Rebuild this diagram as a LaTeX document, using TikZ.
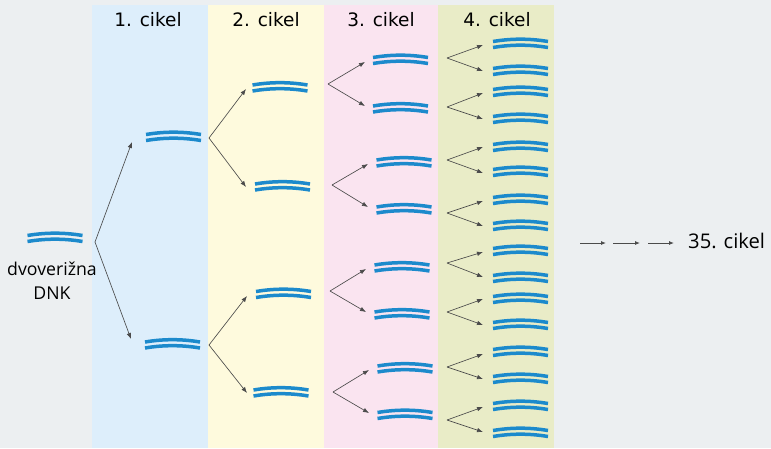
\documentclass[tikz,border=0pt]{standalone}
\usepackage{fontspec}
\setmainfont{Open Sans}
\newfontfamily\headfont{DejaVu Sans}
\usetikzlibrary{arrows.meta}
\definecolor{bg}{RGB}{236,239,241}
\definecolor{colblue}{RGB}{221,238,251}
\definecolor{colyellow}{RGB}{254,250,221}
\definecolor{colpink}{RGB}{250,228,240}
\definecolor{colgreen}{RGB}{233,236,199}
\definecolor{dnablue}{RGB}{28,138,204}
\definecolor{arrowgrey}{RGB}{75,75,75}
\tikzset{
  strand/.style={draw=dnablue, line width=3.5pt},
  dnabox/.style={minimum width=56pt, minimum height=12pt, inner sep=0pt, outer sep=0pt},
  arr/.style={draw=arrowgrey, line width=0.65pt, -{Latex[length=6pt,width=4.5pt]}},
  head/.style={anchor=base, inner sep=0pt, font=\headfont\fontsize{18.5}{22}\selectfont},
  lbl/.style={anchor=base, inner sep=0pt, font=\fontsize{17.7}{21}\selectfont}
}
\newcommand\dnapiece[3]{%
  \node[dnabox] (#1) at (#2,#3) {};
  \begin{scope}[shift={(#2,#3)}]
    \draw[strand] (-27.5,-1.5) .. controls (-9,-4.6) and (9,-4.6) .. (27.5,-1.5);
    \draw[strand] (-27.5,4.5) .. controls (-9,1.4) and (9,1.4) .. (27.5,4.5);
  \end{scope}}
\begin{document}
\begin{tikzpicture}[x=1pt,y=-1pt]
\fill[bg] (0,0) rectangle (771,448);
\useasboundingbox (0,0) rectangle (771,448);
% columns
\fill[colblue] (92,5) rectangle (208,448);
\fill[colyellow] (208,5) rectangle (324,448);
\fill[colpink] (324,5) rectangle (438,448);
\fill[colgreen] (438,5) rectangle (554,448);
% headers
\node[head] (h1) at (148,26) {1. cikel};
\node[head] (h2) at (266,26) {2. cikel};
\node[head] (h3) at (381,26) {3. cikel};
\node[head] (h4) at (497,26) {4. cikel};
% start DNA
\dnapiece{d0}{55}{237}
\node[lbl] (l1) at (52,275) {dvoverižna};
\node[lbl] (l2) at (52,299) {DNK};
% cycle 1
\coordinate (b0) at (95,242);
\coordinate (t1a) at (132,142);
\coordinate (t1b) at (131,339);
\draw[arr] (b0) -- (t1a);
\draw[arr] (b0) -- (t1b);
\dnapiece{d1a}{173.5}{136}
\dnapiece{d1b}{172.5}{343.5}
% cycle 2
\coordinate (b1a) at (209,138);
\coordinate (b1b) at (209,345);
\coordinate (t2a) at (246,89);
\coordinate (t2b) at (246,187);
\coordinate (t2c) at (247,296);
\coordinate (t2d) at (247,393);
\draw[arr] (b1a) -- (t2a);
\draw[arr] (b1a) -- (t2b);
\draw[arr] (b1b) -- (t2c);
\draw[arr] (b1b) -- (t2d);
\dnapiece{d2a}{280}{86.5}
\dnapiece{d2b}{282.5}{185.5}
\dnapiece{d2c}{283.5}{293}
\dnapiece{d2d}{281}{391.5}
% cycle 3
\foreach \bx/\by/\tx/\ta/\tb/\dx/\da/\db [count=\i] in
  {328/84/365/62/106/400.5/59/107.5,
   332/185/368/164/207/404/161.5/208.5,
   330/291/366/269/312/402/266.5/313.5,
   333/392/369/370/413/405/367.5/414}{
  \coordinate (p\i) at (\bx,\by);
  \coordinate (pa\i) at (\tx,\ta);
  \coordinate (pb\i) at (\tx,\tb);
  \draw[arr] (p\i) -- (pa\i);
  \draw[arr] (p\i) -- (pb\i);
  \dnapiece{d3a\i}{\dx}{\da}
  \dnapiece{d3b\i}{\dx}{\db}
}
% cycle 4
\foreach \s/\ta/\tb/\da/\db [count=\i] in
  {58/45/71/43/70, 107/93/119/91/118, 160/147/173/146/171, 213/201/226/199/225,
   263/252/277/250/277, 312/299/325/298/324, 367/354/379/351/378, 420/407/432/405/432}{
  \coordinate (q\i) at (447,\s);
  \coordinate (qa\i) at (483,\ta);
  \coordinate (qb\i) at (483,\tb);
  \draw[arr] (q\i) -- (qa\i);
  \draw[arr] (q\i) -- (qb\i);
  \dnapiece{d4a\i}{520.5}{\da}
  \dnapiece{d4b\i}{520.5}{\db}
}
% continuation
\coordinate (r1s) at (580,243); \coordinate (r1e) at (606,243);
\coordinate (r2s) at (613,243); \coordinate (r2e) at (640,243);
\coordinate (r3s) at (648,243); \coordinate (r3e) at (674,243);
\draw[arr, line width=0.9pt, -{Latex[length=5pt,width=4pt]}] (r1s) -- (r1e);
\draw[arr, line width=0.9pt, -{Latex[length=5pt,width=4pt]}] (r2s) -- (r2e);
\draw[arr, line width=0.9pt, -{Latex[length=5pt,width=4pt]}] (r3s) -- (r3e);
\node[anchor=base west, inner sep=0pt, font=\fontsize{20.2}{24}\selectfont] (c35) at (688,248) {35. cikel};
\end{tikzpicture}
\end{document}
